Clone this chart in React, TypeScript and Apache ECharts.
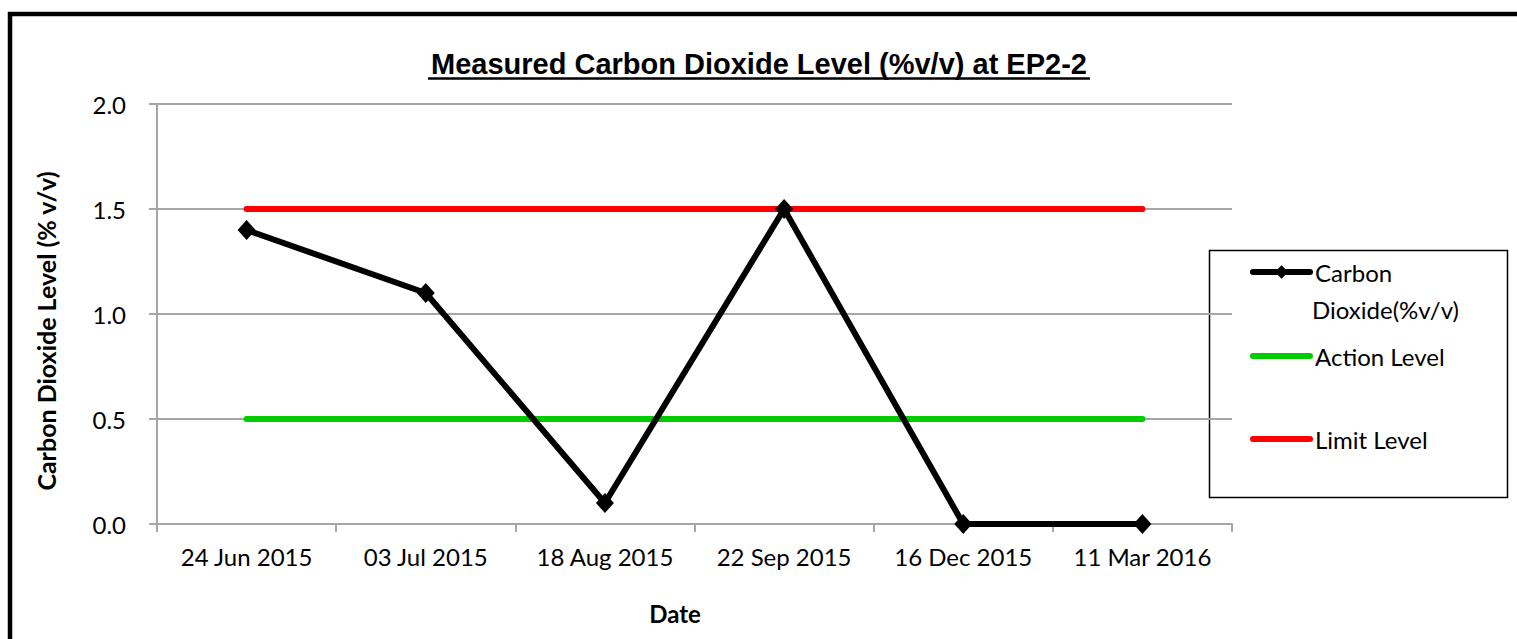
import React, { useEffect, useRef } from "react";
import * as echarts from "echarts";

const dates = ["24 Jun 2015", "03 Jul 2015", "18 Aug 2015", "22 Sep 2015", "16 Dec 2015", "11 Mar 2016"];
const co2Values = [1.4, 1.1, 0.1, 1.5, 0.0, 0.0];
const actionLevel = [0.5, 0.5, 0.5, 0.5, 0.5, 0.5];
const limitLevel = [1.5, 1.5, 1.5, 1.5, 1.5, 1.5];
const yMin = 0;
const yMax = 2.0;
const yStep = 0.5;

const titleText = "Measured Carbon Dioxide Level (%v/v) at EP2-2";
const yName = "Carbon Dioxide Level (% v/v)";
const xName = "Date";
const co2Name = "Carbon Dioxide(%v/v)";
const actionName = "Action Level";
const limitName = "Limit Level";

const FONT = "Lato, 'Open Sans', sans-serif";
const GRID = "#a6a6a6";

export default function App() {
  const ref = useRef<HTMLDivElement>(null);
  useEffect(() => {
    if (!ref.current) return;
    const chart = echarts.init(ref.current, undefined, { renderer: "svg" });
    const legendBase = {
      orient: "horizontal",
      padding: 0,
      itemWidth: 57,
      itemHeight: 17,
      selectedMode: false,
      textStyle: { fontFamily: FONT, fontSize: 24, color: "#000", lineHeight: 24 },
      lineStyle: { width: 6, cap: "round" },
    };
    const hiddenSymbol = { color: "rgba(0,0,0,0)", borderWidth: 0, opacity: 0 };
    chart.setOption({
      animation: false,
      backgroundColor: "#fff",
      grid: { left: 157, top: 104, right: 285, bottom: 115, containLabel: false },
      xAxis: {
        type: "category",
        data: dates,
        boundaryGap: true,
        axisLine: { show: true, lineStyle: { color: GRID, width: 2 } },
        axisTick: { show: true, alignWithLabel: false, length: 8, lineStyle: { color: GRID, width: 2 } },
        axisLabel: { fontFamily: FONT, fontSize: 24, color: "#000", margin: 20, interval: 0 },
        splitLine: { show: false },
      },
      yAxis: {
        type: "value",
        min: yMin,
        max: yMax,
        interval: yStep,
        axisLine: { show: true, lineStyle: { color: GRID, width: 2 } },
        axisTick: { show: true, length: 8, lineStyle: { color: GRID, width: 2 } },
        axisLabel: {
          fontFamily: FONT,
          fontSize: 24,
          color: "#000",
          margin: 31,
          formatter: (v: number) => v.toFixed(1),
        },
        splitLine: { show: true, lineStyle: { color: GRID, width: 2 } },
      },
      legend: [
        { ...legendBase, data: [co2Name], left: 1250, top: 260, formatter: () => "Carbon" },
        { ...legendBase, data: [{ name: actionName, itemStyle: hiddenSymbol }], left: 1250, top: 344 },
        { ...legendBase, data: [{ name: limitName, itemStyle: hiddenSymbol }], left: 1250, top: 427 },
      ],
      graphic: [
        {
          type: "rect",
          shape: { x: 10, y: 14, width: 1700, height: 800 },
          style: { fill: "none", stroke: "#000", lineWidth: 4.5 },
          silent: true,
          z: -1,
        },
        {
          type: "rect",
          shape: { x: 1209.5, y: 250.5, width: 298, height: 247 },
          style: { fill: "#fff", stroke: "#000", lineWidth: 1.5 },
          silent: true,
          z: -1,
        },
        {
          type: "text",
          x: 759,
          y: 64,
          style: {
            text: titleText,
            fontFamily: "Liberation Sans",
            fontWeight: "bold",
            fontSize: 29,
            fill: "#000",
            align: "center",
            verticalAlign: "middle",
          },
        },
        {
          type: "line",
          shape: { x1: 428, y1: 78.5, x2: 1090, y2: 78.5 },
          style: { stroke: "#000", lineWidth: 2.5 },
        },
        {
          type: "text",
          x: 46,
          y: 331,
          rotation: Math.PI / 2,
          style: {
            text: yName,
            fontFamily: FONT,
            fontWeight: "bold",
            fontSize: 25,
            fill: "#000",
            align: "center",
            verticalAlign: "middle",
          },
        },
        {
          type: "text",
          x: 675,
          y: 613,
          style: {
            text: xName,
            fontFamily: FONT,
            fontWeight: "bold",
            fontSize: 24,
            fill: "#000",
            align: "center",
            verticalAlign: "middle",
          },
        },
        {
          type: "text",
          x: 1312,
          y: 309,
          style: {
            text: "Dioxide(%v/v)",
            fontFamily: FONT,
            fontSize: 24,
            fill: "#000",
            align: "left",
            verticalAlign: "middle",
          },
        },
      ],
      series: [
        {
          name: actionName,
          type: "line",
          data: actionLevel,
          symbol: "none",
          lineStyle: { color: "#00cc00", width: 6, cap: "round" },
          itemStyle: { color: "#00cc00" },
          z: 2,
        },
        {
          name: limitName,
          type: "line",
          data: limitLevel,
          symbol: "none",
          lineStyle: { color: "#ff0000", width: 6, cap: "round" },
          itemStyle: { color: "#ff0000" },
          z: 2,
        },
        {
          name: co2Name,
          type: "line",
          data: co2Values,
          symbol: "diamond",
          symbolSize: [18, 20],
          lineStyle: { color: "#000", width: 6, cap: "round", join: "round" },
          itemStyle: { color: "#000" },
          z: 3,
        },
      ],
    });
    return () => chart.dispose();
  }, []);
  return (
    <div
      ref={ref}
      style={{ position: "fixed", left: 0, top: 0, width: 1517, height: 639 }}
    />
  );
}
